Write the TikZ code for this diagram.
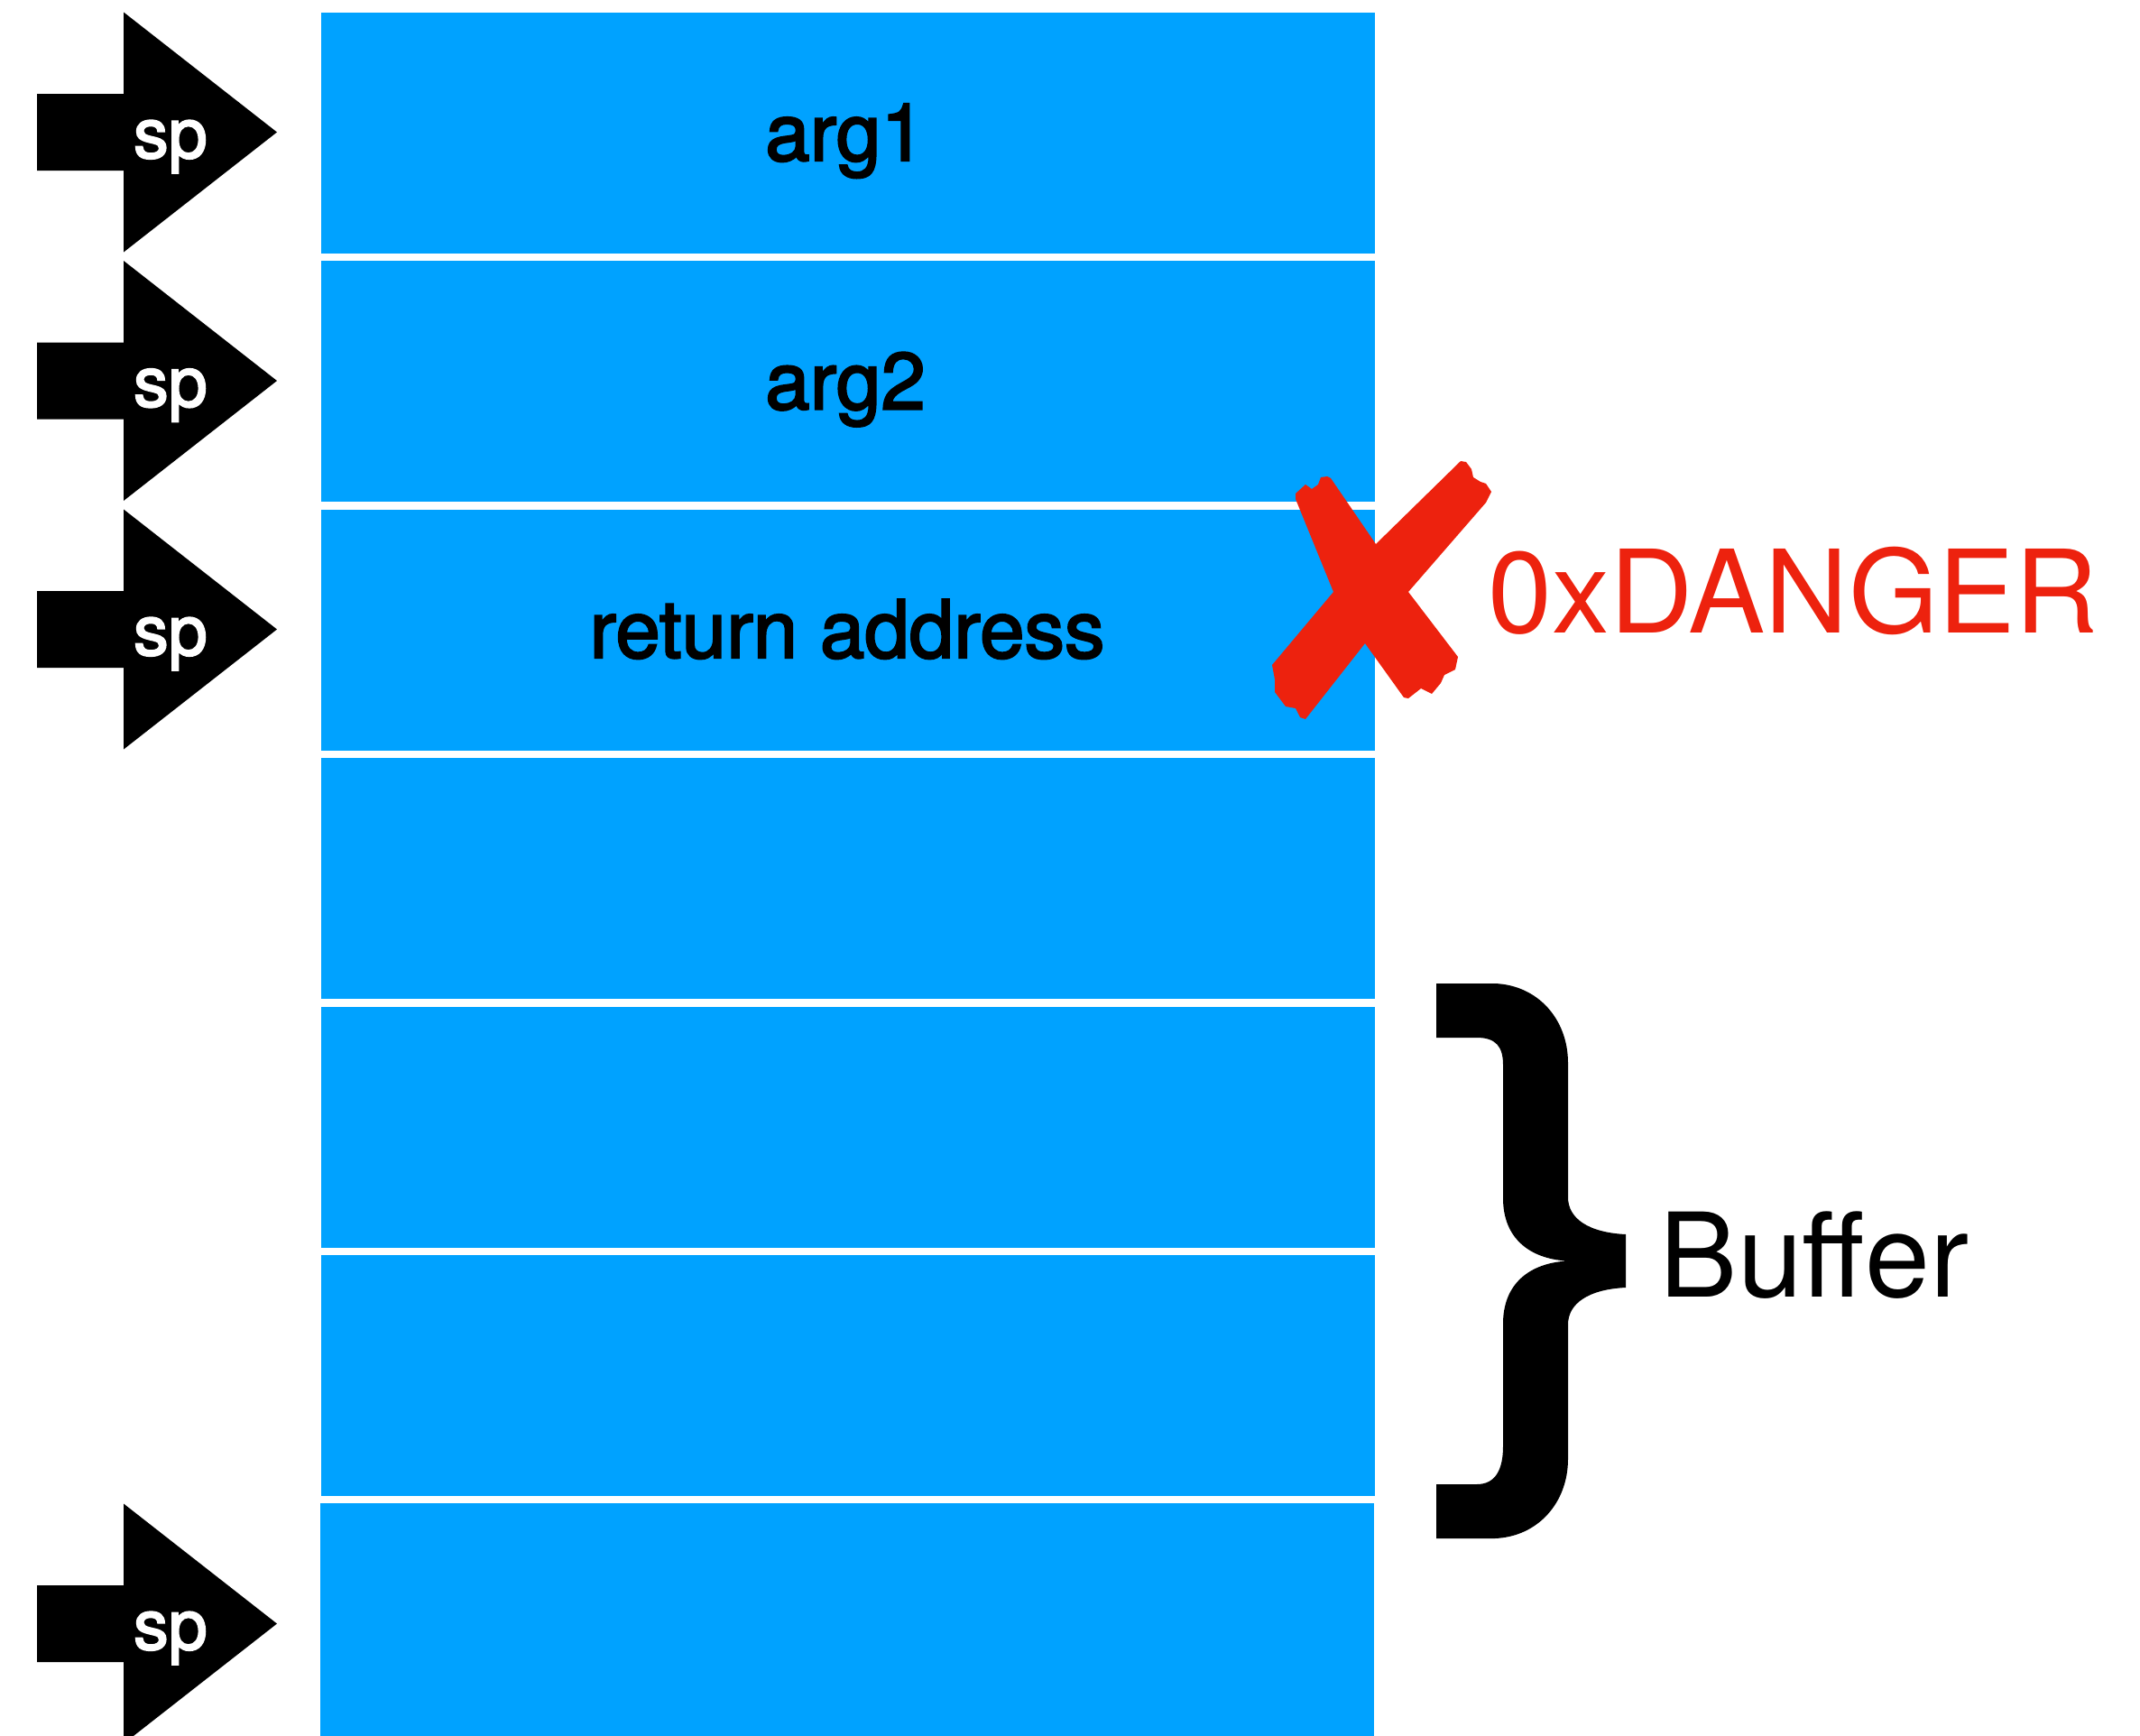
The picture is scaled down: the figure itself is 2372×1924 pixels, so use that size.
\documentclass[tikz,border=0pt]{standalone}
\usepackage{fontspec}
\setmainfont{TeX Gyre Heros}
\newfontfamily\medfont[FakeBold=2.5]{TeX Gyre Heros}
\definecolor{stackblue}{RGB}{0,162,255}
\definecolor{dangerred}{RGB}{237,34,14}
\tikzset{
  slot/.style={fill=stackblue, draw=none, minimum width=1168*0.01cm, minimum height=267*0.01cm, inner sep=0, anchor=north west},
  slotlabel/.style={font=\medfont\fontsize{25.3}{28}\selectfont, text=black, inner sep=0, anchor=base},
  splabel/.style={font=\medfont\fontsize{22}{26}\selectfont, text=white, inner sep=0, anchor=base},
  bigred/.style={font=\fontsize{36.3}{40}\selectfont, text=dangerred, inner sep=0, anchor=base west},
  bigblack/.style={font=\fontsize{36.8}{40}\selectfont, text=black, inner sep=0, anchor=base west},
  sparrow/.style={fill=black, draw=none}
}
\begin{document}
\begin{tikzpicture}[x=0.01cm, y=-0.01cm]
\useasboundingbox (0,0) rectangle (2372,1924);
\clip (0,0) rectangle (2372,1924);
% stack slots
\foreach \k in {0,...,5} {
  \node[slot] (slot\k) at (355,{13+275.5*\k}) {};
}
\path[fill=stackblue] (355,1666) rectangle (1523,1940);
\coordinate (slot6) at (939,1799.5);
% labels
\node[slotlabel] (larg1) at (937,178) {arg1};
\node[slotlabel] (larg2) at (937,453.5) {arg2};
\node[slotlabel] (lret) at (939,729) {return address};
% sp arrows
\foreach \c/\n in {146.5/a,422/b,697.5/c,1799.5/d} {
  \path[sparrow] (41,\c-42.5) -- (137,\c-42.5) -- (137,\c-133) -- (307,\c) -- (137,\c+133) -- (137,\c+42.5) -- (41,\c+42.5) -- cycle;
  \node[splabel] (sp\n) at (189,\c+28.5) {sp};
}
% red cross
\path[fill=dangerred] (1436,547) -- (1447,537) -- (1454,542) -- (1461,537) -- (1464,529) -- (1471,528) -- (1475,530)
  -- (1525,603)
  -- (1619,511) -- (1625,512) -- (1631,520) -- (1633,529) -- (1641,534) -- (1647,536) -- (1653,545) -- (1647,557)
  -- (1561,656)
  -- (1616,728) -- (1613,742) -- (1601,748) -- (1597,757) -- (1587,769) -- (1575,763) -- (1561,774) -- (1556,773)
  -- (1513,713)
  -- (1447,797) -- (1441,795) -- (1436,785) -- (1425,783) -- (1413,767) -- (1413,753) -- (1410,737)
  -- (1478,656)
  -- (1436,553) -- cycle;
\node[bigred] (danger) at (1649,701) {0xDANGER};
% brace
\path[fill=black] (1592,1090) -- (1657,1090)
  .. controls (1705,1092) and (1738,1130) .. (1738,1178)
  -- (1738,1327)
  .. controls (1738,1350) and (1760,1366) .. (1802,1368)
  -- (1802,1427)
  .. controls (1760,1429) and (1738,1445) .. (1738,1468)
  -- (1738,1617)
  .. controls (1738,1665) and (1705,1703) .. (1657,1705)
  -- (1592,1705) -- (1592,1645) -- (1637,1645)
  .. controls (1658,1645) and (1666,1628) .. (1666,1603)
  -- (1666,1467)
  .. controls (1666,1423) and (1695,1400) .. (1737,1397.5)
  .. controls (1695,1395) and (1666,1372) .. (1666,1328)
  -- (1666,1180)
  .. controls (1666,1160) and (1658,1150) .. (1637,1150)
  -- (1592,1150) -- cycle;
\node[bigblack] (buffer) at (1839,1437) {Buffer};
\end{tikzpicture}
\end{document}
